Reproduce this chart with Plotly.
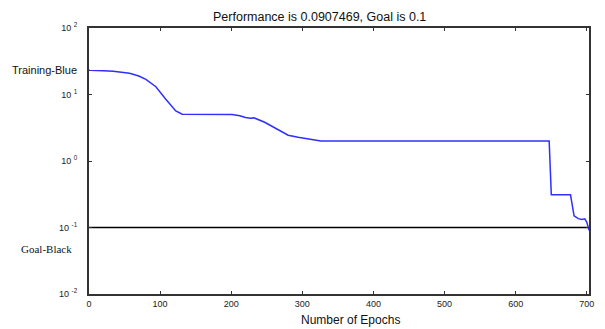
import plotly.graph_objects as go

# Training performance
epochs = [0, 1, 20, 34, 57, 70, 80, 94, 108, 122, 131, 150, 201, 212, 220, 227, 232, 247,
          266, 280, 294, 312, 326, 400, 500, 600, 647, 650, 677, 680, 682, 688, 693, 697, 700, 703]
perf = [23.2, 23.1, 22.8, 22.3, 20.8, 19.0, 16.9, 13.1, 8.5, 5.65, 5.04, 5.02, 5.0, 4.8, 4.5, 4.4, 4.45, 3.83,
        3.0, 2.44, 2.27, 2.12, 2.0, 2.0, 2.0, 2.0, 2.0, 0.31, 0.31, 0.2, 0.15, 0.136, 0.132, 0.135, 0.12, 0.0907]

goal_x = [0, 703]
goal_y = [0.1, 0.1]

x_ticks = [0, 100, 200, 300, 400, 500, 600, 700]
y_tickvals = [0.01, 0.1, 1, 10, 100]
y_ticktext = ["10 <sup>-2</sup>", "10 <sup>-1</sup>", "10 <sup>0</sup>", "10 <sup>1</sup>", "10 <sup>2</sup>"]

title_text = "Performance is 0.0907469, Goal is 0.1"
xlabel = "Number of Epochs"

fig = go.Figure()
fig.add_trace(go.Scatter(x=goal_x, y=goal_y, mode="lines",
                         line=dict(color="#000000", width=1.3), showlegend=False))
fig.add_trace(go.Scatter(x=epochs, y=perf, mode="lines",
                         line=dict(color="#2f2fff", width=1.5), showlegend=False))

axis_common = dict(showgrid=False, zeroline=False, showline=True, mirror="ticks",
                   linecolor="#333333", linewidth=2, ticks="inside", ticklen=3,
                   tickcolor="#333333", tickfont=dict(family="Liberation Sans, Arial", size=9, color="#222222"))

fig.update_xaxes(range=[0, 703], tickvals=x_ticks, ticktext=[str(t) for t in x_ticks], **axis_common)
fig.update_yaxes(type="log", range=[-2, 2], tickvals=y_tickvals, ticktext=y_ticktext,
                 ticklabelstandoff=8, **axis_common)

fig.add_annotation(text=title_text, xref="paper", yref="paper", x=0.46, y=1.043,
                   xanchor="center", yanchor="middle", showarrow=False,
                   font=dict(family="Liberation Sans, Arial", size=12.5, color="#111111"))
fig.add_annotation(text=xlabel, xref="paper", yref="paper", x=0.522, y=-0.097,
                   xanchor="center", yanchor="middle", showarrow=False,
                   font=dict(family="Liberation Sans, Arial", size=12, color="#111111"))
fig.add_annotation(text="Training-Blue", xref="paper", yref="paper", x=-0.021, y=0.843,
                   xanchor="right", yanchor="middle", showarrow=False,
                   font=dict(family="Liberation Sans, Arial", size=11, color="#111111"))
fig.add_annotation(text="Goal-Black", xref="paper", yref="paper", x=-0.031, y=0.169,
                   xanchor="right", yanchor="middle", showarrow=False,
                   font=dict(family="Liberation Serif, Times New Roman", size=11, color="#111111"))

# the page body adds an 8px margin, so the figure is sized to fill the window from (8, 8)
fig.update_layout(width=597, height=321, margin=dict(l=81, r=11, t=20, b=35),
                  plot_bgcolor="white", paper_bgcolor="white")

fig.write_html("out.html")
